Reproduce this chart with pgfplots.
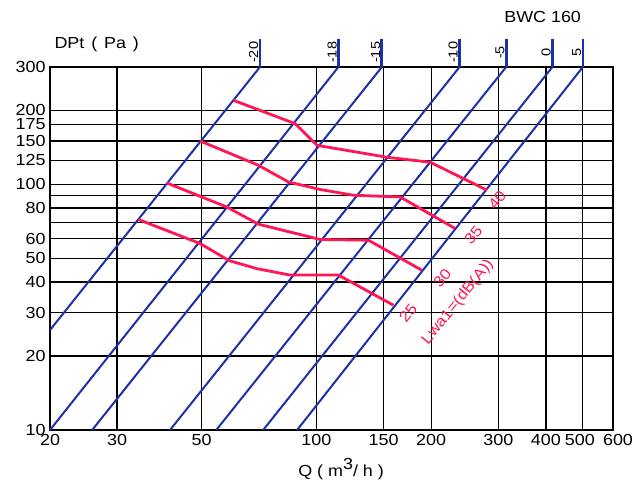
\documentclass[border=0pt]{standalone}
\usepackage{fontspec}
\setmainfont{Liberation Sans}[FakeStretch=1.12]
\usepackage{pgfplots}
\pgfplotsset{compat=1.18}
\definecolor{dblue}{RGB}{28,48,168}
\definecolor{pred}{RGB}{255,22,82}
\begin{document}
\begin{tikzpicture}
\path[use as bounding box] (-50pt,-56pt) rectangle (586pt,430pt);
\begin{axis}[
  xmode=log, ymode=log,
  scale only axis, width=563pt, height=363pt,
  xmin=20, xmax=600, ymin=10, ymax=300,
  xtick={20,30,50,100,150,200,300,400,500,600},
  xticklabels={20,30,50,100,150,200,300,400,500\hspace*{6pt},\hspace*{10pt}600},
  ytick={10,20,30,40,50,60,80,100,125,150,175,200,300},
  yticklabels={10,20,30,40,50,60,80,100,125,150,175,200,300},
  minor ytick={70,90},
  grid=both,
  major grid style={black, line width=1.3pt},
  minor grid style={black, line width=1.3pt},
  axis line style={black, line width=2.8pt},
  major tick length=0pt, minor tick length=0pt,
  tick label style={font=\fontsize{16}{18}\selectfont},
  xticklabel style={yshift=-1pt},
  yticklabel style={xshift=-1pt},
  clip=false,
]
% damper positions
\addplot[dblue, line width=2pt] coordinates {(20,25.5) (71.1,300)};
\addplot[dblue, line width=2pt] coordinates {(20,10) (114.2,300)};
\addplot[dblue, line width=2pt] coordinates {(25.8,10) (148.5,300)};
\addplot[dblue, line width=2pt] coordinates {(41.3,10) (237.4,300)};
\addplot[dblue, line width=2pt] coordinates {(54.6,10) (314.6,300)};
\addplot[dblue, line width=2pt] coordinates {(72.5,10) (416,300)};
\addplot[dblue, line width=2pt] coordinates {(89,10) (500,300)};
% ticks above the frame
\addplot[dblue, line width=2.8pt] coordinates {(71.1,300) (71.1,391)};
\addplot[dblue, line width=2.8pt] coordinates {(114.2,300) (114.2,391)};
\addplot[dblue, line width=2.8pt] coordinates {(148.5,300) (148.5,391)};
\addplot[dblue, line width=2.8pt] coordinates {(237.4,300) (237.4,391)};
\addplot[dblue, line width=2.8pt] coordinates {(314.6,300) (314.6,391)};
\addplot[dblue, line width=2.8pt] coordinates {(416,300) (416,391)};
\addplot[dblue, line width=1.8pt] coordinates {(500,300) (500,391)};
% sound power levels
\addplot[pred, line width=2.8pt] coordinates {(60.6,219.5) (87.9,176.5) (100.4,144) (153,128.8) (198.8,122.9) (280.6,94.5)};
\addplot[pred, line width=2.8pt] coordinates {(49.5,150) (70.4,119.5) (84.4,102.2) (102.3,95.2) (125,90.2) (165.8,88.8) (231,66.1)};
\addplot[pred, line width=2.8pt] coordinates {(40.5,101.2) (58.2,80.8) (70.4,68.8) (102.3,59.6) (136.9,59.2) (189,44.7)};
\addplot[pred, line width=2.8pt] coordinates {(34.1,71.9) (49.5,57.4) (59,48.9) (70,45.3) (85.3,42.7) (114.2,42.7) (159.2,32.2)};

\begin{scope}[every node/.style={font=\fontsize{13}{15}\selectfont, rotate=90, anchor=south, inner sep=1.5pt}]
\node at (axis cs:71.1,344) {-20};
\node at (axis cs:114.2,344) {-18};
\node at (axis cs:148.5,344) {-15};
\node at (axis cs:237.4,344) {-10};
\node at (axis cs:314.6,344) {-5};
\node at (axis cs:416,344) {0};
\node at (axis cs:500,344) {5};
\end{scope}

\begin{scope}[every node/.style={font=\fontsize{15}{17}\selectfont, text=pred, rotate=51, inner sep=0pt}]
\node at (axis cs:298,86) {40};
\node at (axis cs:258,62) {35};
\node at (axis cs:214,41.5) {30};
\node at (axis cs:174,29.9) {25};
\node at (axis cs:235,33.1) {Lwa1=(dB(A))};
\end{scope}

\node[font=\fontsize{16}{18}\selectfont] at (rel axis cs:0.083,1.061) {DPt\hspace{0.12em} (\hspace{0.12em} Pa\hspace{0.12em} )};
\node[font=\fontsize{16}{18}\selectfont] at (rel axis cs:0.517,-0.108) {Q ( m\raisebox{0.75ex}{3}/ h )};
\node[font=\fontsize{16}{18}\selectfont] at (rel axis cs:0.875,1.138) {BWC 160};
\end{axis}
\end{tikzpicture}
\end{document}
